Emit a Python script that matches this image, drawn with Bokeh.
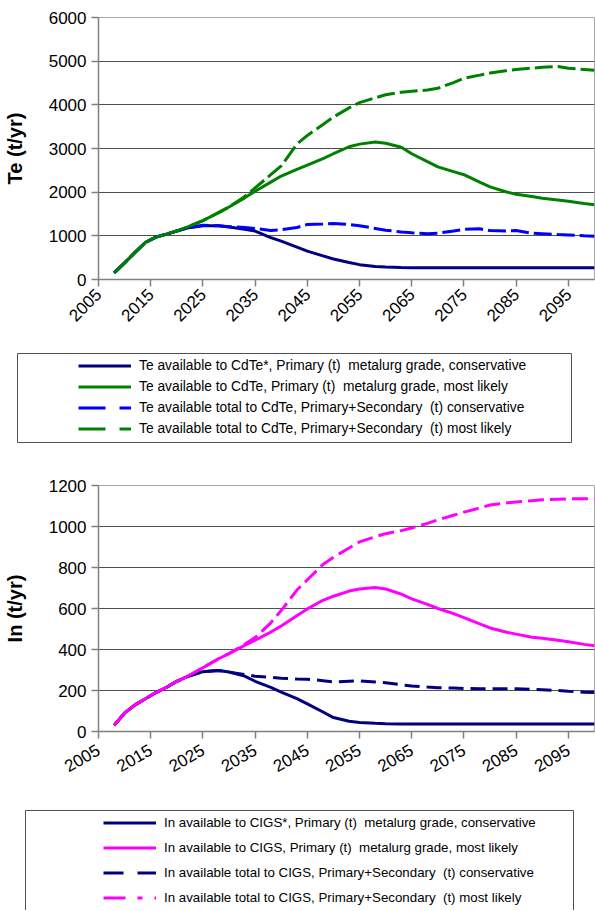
import math
from bokeh.plotting import figure
from bokeh.models import Range1d, FixedTicker, Legend, LegendItem
from bokeh.layouts import column
from bokeh.embed import file_html
from bokeh.resources import INLINE

# ---------------- data ----------------
years = [2008, 2010, 2012, 2014, 2016, 2018, 2020, 2022, 2025, 2028, 2030, 2033, 2035,
         2038, 2040, 2043, 2045, 2048, 2050, 2053, 2055, 2058, 2060, 2063, 2065, 2068,
         2070, 2073, 2075, 2078, 2080, 2083, 2085, 2088, 2090, 2093, 2095, 2098, 2100]

te_primary_conservative = [150, 380, 620, 850, 970, 1040, 1110, 1180, 1230, 1230, 1200, 1150, 1110,
                           960, 880, 740, 650, 540, 470, 390, 340, 300, 285, 275, 270, 270,
                           270, 270, 270, 270, 270, 270, 270, 270, 270, 270, 270, 270, 270]
te_primary_likely = [150, 380, 620, 850, 970, 1040, 1110, 1200, 1350, 1530, 1660, 1870, 2020,
                     2230, 2370, 2520, 2620, 2770, 2880, 3040, 3100, 3150, 3120, 3030, 2880, 2700,
                     2580, 2470, 2400, 2230, 2120, 2010, 1950, 1900, 1860, 1820, 1790, 1740, 1710]
te_total_conservative = [150, 380, 620, 850, 970, 1040, 1110, 1180, 1240, 1230, 1210, 1190, 1170,
                         1120, 1140, 1190, 1260, 1270, 1280, 1260, 1230, 1170, 1130, 1090, 1070, 1050,
                         1060, 1110, 1150, 1160, 1120, 1110, 1120, 1060, 1050, 1030, 1020, 1000, 990]
te_total_likely = [150, 380, 620, 850, 970, 1040, 1110, 1200, 1350, 1530, 1660, 1900, 2100,
                   2400, 2600, 3100, 3300, 3550, 3720, 3930, 4050, 4160, 4230, 4290, 4310, 4340,
                   4380, 4510, 4610, 4680, 4730, 4780, 4810, 4840, 4860, 4880, 4840, 4810, 4790]

in_primary_conservative = [30, 90, 130, 160, 190, 215, 245, 268, 292, 298, 290, 270, 245,
                           215, 192, 160, 135, 95, 68, 50, 44, 40, 38, 37, 36, 36,
                           36, 36, 36, 36, 36, 36, 36, 36, 36, 36, 36, 36, 36]
in_primary_likely = [30, 90, 130, 160, 190, 215, 245, 268, 311, 355, 380, 420, 445,
                     485, 515, 565, 598, 640, 660, 685, 695, 702, 695, 670, 647, 620,
                     600, 575, 555, 525, 505, 485, 475, 460, 455, 445, 438, 425, 418]
in_total_conservative = [30, 90, 130, 160, 190, 215, 245, 268, 292, 298, 290, 278, 270,
                         264, 260, 256, 255, 248, 242, 245, 247, 242, 238, 228, 222, 217,
                         214, 212, 210, 208, 208, 209, 209, 206, 204, 200, 196, 192, 190]
in_total_likely = [30, 90, 130, 160, 190, 215, 245, 268, 311, 355, 380, 425, 458,
                   530, 590, 690, 740, 815, 850, 895, 925, 950, 965, 980, 993, 1015,
                   1032, 1055, 1070, 1090, 1105, 1115, 1120, 1126, 1130, 1133, 1135, 1135, 1135]

x_ticks = [2005, 2015, 2025, 2035, 2045, 2055, 2065, 2075, 2085, 2095]
te_ticks = [0, 1000, 2000, 3000, 4000, 5000, 6000]
in_ticks = [0, 200, 400, 600, 800, 1000, 1200]

te_labels = ["Te available to CdTe*, Primary (t)  metalurg grade, conservative",
             "Te available to CdTe, Primary (t)  metalurg grade, most likely",
             "Te available total to CdTe, Primary+Secondary  (t) conservative",
             "Te available total to CdTe, Primary+Secondary  (t) most likely"]
in_labels = ["In available to CIGS*, Primary (t)  metalurg grade, conservative",
             "In available to CIGS, Primary (t)  metalurg grade, most likely",
             "In available total to CIGS, Primary+Secondary  (t) conservative",
             "In available total to CIGS, Primary+Secondary  (t) most likely"]

te_series = [te_primary_conservative, te_primary_likely, te_total_conservative, te_total_likely]
in_series = [in_primary_conservative, in_primary_likely, in_total_conservative, in_total_likely]

FONT = "Liberation Sans"
NAVY = "#000080"
GREEN = "#008000"
BLUE = "#0000FF"
MAGENTA = "#FF00FF"
W = 595


def chart(h, ymax, yticks, ylabel, b_top, b_left, b_bottom, orient, standoff):
    p = figure(width=W, height=h, x_range=Range1d(2005, 2100), y_range=Range1d(0, ymax),
               min_border_left=b_left, min_border_right=1, min_border_top=b_top,
               min_border_bottom=b_bottom, frame_align=False,
               output_backend="svg", toolbar_location=None)
    p.xaxis.ticker = FixedTicker(ticks=x_ticks)
    p.yaxis.ticker = FixedTicker(ticks=yticks)
    p.axis.minor_tick_line_color = None
    p.axis.major_tick_in = 0
    p.axis.major_tick_out = 7
    p.axis.axis_line_color = "#808080"
    p.axis.axis_line_width = 1.5
    p.axis.major_tick_line_color = "#808080"
    p.axis.major_tick_line_width = 1.5
    p.axis.major_label_text_font = FONT
    p.axis.major_label_text_font_size = "17px"
    p.axis.major_label_text_color = "black"
    p.yaxis.major_label_standoff = 5
    p.xaxis.major_label_standoff = standoff
    p.xaxis.major_label_orientation = orient
    p.yaxis.axis_label = ylabel
    p.yaxis.axis_label_text_font = FONT
    p.yaxis.axis_label_text_font_style = "bold"
    p.yaxis.axis_label_text_font_size = "20px"
    p.yaxis.axis_label_text_color = "black"
    p.yaxis.axis_label_standoff = 20
    p.xgrid.visible = False
    p.ygrid.grid_line_color = "#505050"
    p.ygrid.grid_line_width = 1
    p.outline_line_color = "#a8a8a8"
    return p


def legend_fig(h, labels, series, styles, box, loc, row_h, fsize):
    p = figure(width=W, height=h, x_range=Range1d(0, W), y_range=Range1d(0, h),
               min_border=0, x_axis_location=None, y_axis_location=None,
               frame_align=False, output_backend="svg", toolbar_location=None)
    p.grid.visible = False
    p.outline_line_color = None
    left, right, top, bottom = box
    p.quad(left=[left], right=[right], top=[top], bottom=[bottom],
           fill_color=None, line_color="#505050", line_width=1)
    items = []
    for lab, vals, (col, dash) in zip(labels, series, styles):
        r = p.line(years, vals, line_color=col, line_width=3, line_dash=dash, visible=False)
        items.append(LegendItem(label=lab, renderers=[r]))
    lg = Legend(items=items, location=loc, orientation="vertical",
                border_line_color=None, background_fill_alpha=0,
                inactive_fill_alpha=0,
                padding=0, margin=0, spacing=0,
                glyph_width=53, glyph_height=row_h, label_height=row_h,
                label_standoff=8, label_text_font=FONT,
                label_text_font_size=fsize, label_text_color="black")
    p.add_layout(lg, "center")
    return p


# ---------------- Te chart ----------------
p1 = chart(345, 6000, te_ticks, "Te (t/yr)", 17, 96, 66, math.pi / 4, 5)
p1.line(years, te_primary_conservative, line_color=NAVY, line_width=3)
p1.line(years, te_primary_likely, line_color=GREEN, line_width=3)
p1.line(years, te_total_conservative, line_color=BLUE, line_width=3, line_dash="18 5")
p1.line(years, te_total_likely, line_color=GREEN, line_width=3, line_dash="18 5")

l1 = legend_fig(115, te_labels, te_series,
                [(NAVY, "solid"), (GREEN, "solid"), (BLUE, "27 14"), (GREEN, "27 14")],
                (17, 571, 107, 18), (78, 21), 21, "13.8px")

# ---------------- In chart ----------------
p2 = chart(340, 1200, in_ticks, "In (t/yr)", 25, 95, 69, math.pi / 6, 10)
p2.line(years, in_primary_conservative, line_color=NAVY, line_width=3)
p2.line(years, in_primary_likely, line_color=MAGENTA, line_width=3)
p2.line(years, in_total_conservative, line_color=NAVY, line_width=3, line_dash="15 7")
p2.line(years, in_total_likely, line_color=MAGENTA, line_width=3, line_dash="16 6")

l2 = legend_fig(110, in_labels, in_series,
                [(NAVY, "solid"), (MAGENTA, "solid"), (NAVY, "20 14"), (MAGENTA, "22 12 5 12")],
                (25, 573, 100, -20), (103, 0), 25, "13.3px")

layout = column(p1, l1, p2, l2)
open("out.html", "w").write(file_html(layout, INLINE))
